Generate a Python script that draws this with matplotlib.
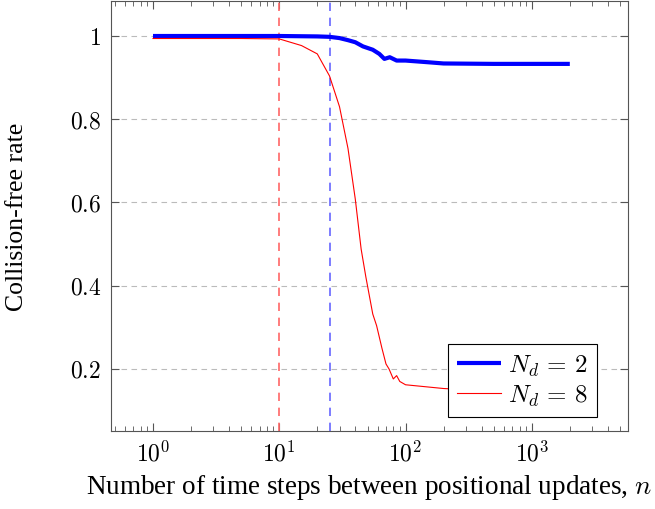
import numpy as np
import matplotlib
matplotlib.use("Agg")
import matplotlib.pyplot as plt
from matplotlib.ticker import LogLocator, FixedLocator, FuncFormatter

plt.rcParams['font.family'] = ['Liberation Serif', 'DejaVu Serif']
plt.rcParams['mathtext.fontset'] = 'cm'

# N_d = 2 (thick blue)
n_2 = [1, 5, 10, 20, 25, 30, 35, 40, 46, 55, 62, 68, 75, 85, 100, 150, 200, 500, 1000, 2000]
rate_2 = [1.0, 1.0, 1.0, 0.999, 0.998, 0.995, 0.99, 0.985, 0.975, 0.967, 0.957, 0.945, 0.949,
          0.941, 0.941, 0.937, 0.934, 0.933, 0.933, 0.933]

# N_d = 8 (thin red)
n_8 = [1, 5, 10, 15, 20, 25, 30, 35, 40, 44.5, 48.5, 55, 59, 65, 70, 74, 80, 85, 90, 100,
       200, 500, 1000, 2000]
rate_8 = [0.994, 0.994, 0.993, 0.977, 0.957, 0.904, 0.83, 0.73, 0.608, 0.488, 0.421, 0.332,
          0.304, 0.25, 0.212, 0.2, 0.176, 0.184, 0.17, 0.162, 0.153, 0.147, 0.143, 0.14]

# update-interval markers
n_red = 10
n_blue = 25

fig = plt.figure(figsize=(6.55, 5.1), dpi=100)
ax = fig.add_axes([0.1695, 0.153, 0.789, 0.843])

ax.axvline(n_red, color='#ff6666', lw=1.2, ls=(0, (5, 4)))
ax.axvline(n_blue, color='#6666ff', lw=1.2, ls=(0, (5, 4)))
ax.plot(n_2, rate_2, color='blue', lw=3, label=r'$N_d \,=\, 2$', solid_capstyle='butt')
ax.plot(n_8, rate_8, color='red', lw=0.8, label=r'$N_d \,=\, 8$')

ax.set_xscale('log')
ax.set_xlim(0.465, 5760)
ax.set_ylim(0.051, 1.084)
ax.yaxis.set_major_locator(FixedLocator([0.2, 0.4, 0.6, 0.8, 1.0]))
ax.yaxis.set_major_formatter(FuncFormatter(lambda v, p: '$1$' if abs(v - 1) < 1e-9 else '$%.1f$' % v))
ax.xaxis.set_major_locator(LogLocator(base=10, numticks=10))
ax.xaxis.set_major_formatter(FuncFormatter(lambda v, p: '$10^{%d}$' % round(np.log10(v))))
ax.xaxis.set_minor_locator(LogLocator(base=10, subs=np.arange(2, 10), numticks=20))
ax.yaxis.grid(True, color='#bbbbbb', ls=(0, (5, 4)), lw=0.8)

for s in ax.spines.values():
    s.set_color('#555555')
ax.tick_params(which='both', direction='in', top=True, right=True, color='#555555', labelsize=17)
ax.tick_params(which='major', length=6, pad=7)
ax.tick_params(which='minor', length=3.5)

ax.set_xlabel(r'Number of time steps between positional updates, $n$', fontsize=19.5)
ax.set_ylabel('Collision-free rate', fontsize=18.5)
ax.xaxis.set_label_coords(0.5, -0.095)
ax.yaxis.set_label_coords(-0.16, 0.5)

leg = ax.legend(loc='lower right', bbox_to_anchor=(0.940, 0.0326), fontsize=18, fancybox=False,
                framealpha=1, edgecolor='black', handlelength=1.76, handletextpad=0.3,
                borderaxespad=0, borderpad=0.35, labelspacing=0.2)
leg.get_frame().set_linewidth(0.8)

fig.savefig('out.png', dpi=100)
